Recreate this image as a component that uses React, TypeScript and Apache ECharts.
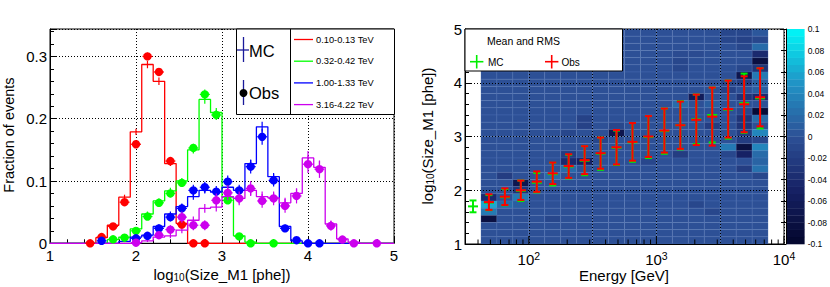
import React, { useEffect, useRef } from "react";
import * as echarts from "echarts";

const FONT = "'Liberation Sans', Arial, Helvetica, sans-serif";

// ---------- binning (log10 Size: 30 bins from 1 to 5) ----------
const SIZE_MIN = 1;
const SIZE_MAX = 5;
const SIZE_NBINS = 30;

// ---------- left panel: fraction of events per log10(Size) bin ----------
const energyBinLabels = ["0.10-0.13 TeV", "0.32-0.42 TeV", "1.00-1.33 TeV", "3.16-4.22 TeV"];

const redMC = [0, 0, 0, 0, 0.009, 0.029, 0.074, 0.179, 0.287, 0.26, 0.128, 0.032, 0, 0, 0, 0, 0, 0, 0, 0, 0, 0, 0, 0, 0, 0, 0, 0, 0, 0];
const redMCErr = [0, 0, 0, 0, 0.002, 0.003, 0.004, 0.005, 0.006, 0.006, 0.004, 0.002, 0, 0, 0, 0, 0, 0, 0, 0, 0, 0, 0, 0, 0, 0, 0, 0, 0, 0];
const redObs = [null, null, null, 0, 0.01, 0.027, 0.066, 0.159, 0.3, 0.275, 0.132, 0.03, 0, 0, null, null, null, null, null, null, null, null, null, null, null, null, null, null, null, null];
const redObsErr = [0, 0, 0, 0, 0.003, 0.004, 0.005, 0.006, 0.006, 0.006, 0.005, 0.004, 0, 0, 0, 0, 0, 0, 0, 0, 0, 0, 0, 0, 0, 0, 0, 0, 0, 0];

const greenMC = [0, 0, 0, 0, 0, 0.006, 0.01, 0.023, 0.047, 0.068, 0.084, 0.1, 0.15, 0.231, 0.21, 0.074, 0.012, 0.002, 0, 0, 0, 0, 0, 0, 0, 0, 0, 0, 0, 0];
const greenMCErr = [0, 0, 0, 0, 0, 0.002, 0.002, 0.003, 0.004, 0.004, 0.005, 0.005, 0.006, 0.007, 0.007, 0.004, 0.002, 0.001, 0, 0, 0, 0, 0, 0, 0, 0, 0, 0, 0, 0];
const greenObs = [null, null, null, null, null, 0.0064, 0.009, 0.02, 0.043, 0.065, 0.08, 0.097, 0.153, 0.239, 0.206, 0.069, 0.011, 0, null, 0, null, null, null, null, null, null, null, null, null, null];
const greenObsErr = [0, 0, 0, 0, 0, 0.002, 0.003, 0.004, 0.005, 0.006, 0.006, 0.006, 0.007, 0.008, 0.008, 0.005, 0.003, 0, 0, 0, 0, 0, 0, 0, 0, 0, 0, 0, 0, 0];

const blueMC = [0, 0, 0, 0, 0, 0, 0.003, 0.01, 0.013, 0.027, 0.047, 0.059, 0.075, 0.085, 0.082, 0.09, 0.085, 0.128, 0.187, 0.107, 0.027, 0.004, 0, 0, 0, 0, 0, 0, 0, 0];
const blueMCErr = [0, 0, 0, 0, 0, 0, 0.001, 0.002, 0.002, 0.003, 0.004, 0.004, 0.005, 0.005, 0.005, 0.005, 0.005, 0.006, 0.008, 0.006, 0.003, 0.001, 0, 0, 0, 0, 0, 0, 0, 0];
const blueObs = [null, null, null, null, 0.004, null, null, 0.008, 0.012, 0.024, 0.042, 0.056, 0.085, 0.09, 0.083, 0.099, 0.085, 0.123, 0.171, 0.101, 0.024, 0.005, 0, 0, null, null, null, null, null, null];
const blueObsErr = [0, 0, 0, 0, 0.003, 0, 0, 0.004, 0.005, 0.006, 0.007, 0.008, 0.009, 0.009, 0.009, 0.01, 0.009, 0.011, 0.013, 0.01, 0.005, 0.003, 0, 0, 0, 0, 0, 0, 0, 0];

const magentaMC = [0, 0, 0, 0, 0, 0, 0, 0.001, 0.004, 0.01, 0.012, 0.021, 0.037, 0.056, 0.058, 0.075, 0.072, 0.085, 0.075, 0.073, 0.065, 0.08, 0.137, 0.122, 0.031, 0.007, 0.002, 0, 0, 0];
const magentaMCErr = [0, 0, 0, 0, 0, 0, 0, 0.001, 0.002, 0.003, 0.004, 0.005, 0.006, 0.007, 0.007, 0.008, 0.008, 0.008, 0.008, 0.008, 0.008, 0.008, 0.011, 0.01, 0.005, 0.002, 0.001, 0, 0, 0];
const magentaObs = [null, null, null, null, null, null, null, 0.001, null, 0.013, 0.022, 0.042, 0.029, 0.029, 0.069, 0.081, 0.072, 0.088, 0.068, 0.072, 0.06, 0.076, 0.127, 0.119, 0.028, 0.006, 0, null, 0, null];
const magentaObsErr = [0, 0, 0, 0, 0, 0, 0, 0.001, 0, 0.006, 0.007, 0.009, 0.008, 0.008, 0.011, 0.012, 0.011, 0.012, 0.011, 0.011, 0.011, 0.012, 0.014, 0.014, 0.008, 0.004, 0, 0, 0, 0];

const leftSeries = [
  { color: "#ff0000", mc: redMC, mcErr: redMCErr, obs: redObs, obsErr: redObsErr },
  { color: "#00ff00", mc: greenMC, mcErr: greenMCErr, obs: greenObs, obsErr: greenObsErr },
  { color: "#0000ff", mc: blueMC, mcErr: blueMCErr, obs: blueObs, obsErr: blueObsErr },
  { color: "#cc00ee", mc: magentaMC, mcErr: magentaMCErr, obs: magentaObs, obsErr: magentaObsErr },
];

// ---------- right panel ----------
// log10(Energy/GeV) bin edges of the 2D map (0.125 decade bins)
const energyEdgesLog = [1.625, 1.75, 1.875, 2.0, 2.125, 2.25, 2.375, 2.5, 2.625, 2.75, 2.875, 3.0, 3.125, 3.25, 3.375, 3.5, 3.625, 3.75, 3.875];

// Mean and RMS of log10(Size) per energy bin
const mcLogE = [1.5625, 1.6875, 1.8125, 1.9375, 2.0625, 2.1875, 2.3125, 2.4375, 2.5625, 2.6875, 2.8125, 2.9375, 3.0625, 3.1875, 3.3125, 3.4375, 3.5625, 3.6875, 3.8125];
const mcMean = [1.7, 1.77, 1.87, 1.99, 2.14, 2.3, 2.44, 2.55, 2.68, 2.79, 2.89, 2.99, 3.1, 3.21, 3.32, 3.4, 3.5, 3.62, 3.71];
const mcRMS = [0.11, 0.14, 0.15, 0.19, 0.18, 0.21, 0.22, 0.27, 0.3, 0.32, 0.36, 0.39, 0.42, 0.45, 0.46, 0.51, 0.54, 0.55, 0.56];
const obsLogE = [1.6875, 1.8125, 1.9375, 2.0625, 2.1875, 2.3125, 2.4375, 2.5625, 2.6875, 2.8125, 2.9375, 3.0625, 3.1875, 3.3125, 3.4375, 3.5625, 3.6875, 3.8125];
const obsMean = [1.78, 1.88, 2.0, 2.16, 2.315, 2.45, 2.56, 2.69, 2.8, 2.9, 3.0, 3.11, 3.21, 3.31, 3.37, 3.51, 3.6, 3.73];
const obsRMS = [0.145, 0.155, 0.18, 0.19, 0.2, 0.22, 0.26, 0.29, 0.32, 0.35, 0.38, 0.41, 0.44, 0.47, 0.54, 0.53, 0.52, 0.54];

// 2D difference map, rows listed from the top Size bin (4.87-5.00) down to the bottom one
const sizeEnergyDiff = [
  [0, 0, 0, 0, 0, 0, 0, 0, 0, 0, 0, 0, 0, 0, 0, -0.01, -0.01, 0.005],
  [0, 0, 0, 0, 0, 0, 0, 0, 0, 0, 0, 0, 0, 0, 0, -0.01, -0.015, -0.01],
  [0, 0, 0, 0, 0, 0, 0, 0, 0, 0, 0, 0, 0, 0, 0, 0, -0.01, 0.02],
  [0, 0, 0, 0, 0, 0, 0, 0, 0, 0, 0, 0, -0.005, -0.005, 0, 0, 0, -0.04],
  [0, 0, 0, 0, 0, 0, 0, 0, 0, 0, 0, 0, -0.01, 0, 0, 0, 0, -0.08],
  [0, 0, 0, 0, 0, 0, 0, 0, 0, 0, 0, 0, -0.01, 0, 0, 0, -0.01, -0.03],
  [0, 0, 0, 0, 0, 0, 0, 0, 0, 0, 0, 0, 0, 0, 0, 0, -0.07, 0.03],
  [0, 0, 0, 0, 0, 0, 0, 0, 0, 0, 0, 0, 0, 0, 0, -0.01, -0.02, 0.01],
  [0, 0, 0, 0, 0, 0, 0, 0, 0, 0, 0, 0, 0, 0, 0, -0.015, 0, 0.01],
  [0, 0, 0, 0, 0, 0, 0, 0, 0, 0, 0, 0, 0, -0.06, 0, 0, -0.03, -0.04],
  [0, 0, 0, 0, 0, 0, 0, 0, 0, 0, 0, 0, 0.02, 0, 0.01, 0, 0, 0],
  [0, 0, 0, 0, 0, 0, 0, 0, 0, 0, 0, 0, 0, 0, 0, 0, -0.01, -0.09],
  [0, 0, 0, 0, 0, 0, -0.015, 0, 0, 0, 0, 0, 0, 0, 0, 0, -0.03, 0.02],
  [0, 0, 0, 0, 0, 0, -0.015, 0, -0.01, 0, 0, 0, 0, 0, -0.02, 0, -0.03, 0],
  [0, 0, 0, 0, 0, -0.01, 0, 0, -0.07, 0, 0, 0, 0, 0, 0, 0, -0.02, 0.04],
  [0, 0, 0, 0, 0, 0, 0, -0.01, 0, 0, 0, 0, 0, 0, 0, 0, -0.02, -0.01],
  [0, 0, 0, 0, 0, 0, 0, 0, 0, 0, 0, 0, 0, 0, 0, 0.03, -0.08, 0.04],
  [0, 0, 0, 0, 0, -0.02, 0, 0, 0, 0, 0, 0, -0.02, 0, 0, -0.01, -0.05, 0.02],
  [0, 0, 0, 0, 0, -0.04, -0.05, 0, 0, 0, -0.01, 0, 0, 0, 0, 0, 0, 0.015],
  [0, 0, 0, 0, 0, 0.02, 0, 0, 0, 0, 0, 0, 0, 0, 0, 0, -0.02, 0.025],
  [0, -0.02, 0, 0, 0.02, 0, 0, 0, 0, 0, 0, 0, 0, 0, 0, 0, 0, -0.01],
  [0, 0, -0.07, 0, 0, 0, 0, 0, 0, 0, 0, 0, 0, 0, 0, 0, 0, 0],
  [0, 0, -0.03, 0, 0, 0, 0, 0, 0, 0, 0, 0, 0, 0, 0, 0, 0, 0],
  [-0.04, 0, 0.03, 0, 0, 0, 0, 0, 0, 0, 0, 0, 0, 0, 0, 0, 0, 0],
  [0.06, 0.02, 0.01, 0, 0, 0, 0, 0, 0, 0, 0, 0, 0, -0.01, 0, 0, 0, 0],
  [0.03, 0, 0, 0, 0, 0, 0, 0, 0, 0, 0, 0, 0, 0, -0.01, 0, 0, 0],
  [-0.08, 0, 0, 0, -0.01, 0, 0, 0, 0, 0, 0, 0, 0, 0, 0, 0, 0, 0],
  [0, 0, 0, 0, 0, 0, 0, 0, 0, 0, 0, 0, 0, 0, 0, 0, 0, 0],
  [0, 0, 0, 0, 0, 0, 0, 0, 0, 0, 0, 0, 0, 0, 0, 0, 0, 0],
  [0, 0, 0, 0, 0, 0, 0, 0, 0, 0, 0, 0, 0, 0, 0, 0, 0, 0],
];

const Z_MIN = -0.1;
const Z_MAX = 0.1;

// ---------- helpers (style / geometry only) ----------
const sizeEdge = (k: number) => SIZE_MIN + ((SIZE_MAX - SIZE_MIN) * k) / SIZE_NBINS;
const sizeCenter = (k: number) => (sizeEdge(k) + sizeEdge(k + 1)) / 2;

const paletteStops: [number, number[]][] = [
  [-0.1, [3, 6, 44]],
  [-0.05, [22, 33, 100]],
  [0, [45, 80, 150]],
  [0.05, [32, 148, 198]],
  [0.1, [0, 248, 248]],
];
function colorFor(v: number) {
  const x = Math.max(Z_MIN, Math.min(Z_MAX, v));
  for (let i = 0; i < paletteStops.length - 1; i++) {
    const [a, ca] = paletteStops[i];
    const [b, cb] = paletteStops[i + 1];
    if (x >= a && x <= b) {
      const t = (x - a) / (b - a);
      const c = ca.map((q, j) => Math.round(q + (cb[j] - q) * t));
      return `rgb(${c[0]},${c[1]},${c[2]})`;
    }
  }
  return "rgb(45,80,150)";
}

export default function App() {
  const ref = useRef<HTMLDivElement>(null);

  useEffect(() => {
    if (!ref.current) return;
    const chart = echarts.init(ref.current, null, { renderer: "svg" });

    const black = "#000";
    const dotted = { color: black, width: 1, type: [1, 2] as any };
    const subRich = { sub: { fontSize: 10, fontFamily: FONT, padding: [6, 0, 0, 0] } };

    // ----- left panel series -----
    const series: any[] = [];
    leftSeries.forEach((s) => {
      const pts: number[][] = [];
      s.mc.forEach((v, k) => {
        pts.push([sizeEdge(k), v]);
        pts.push([sizeEdge(k + 1), v]);
      });
      series.push({
        type: "line",
        xAxisIndex: 0,
        yAxisIndex: 0,
        data: pts,
        showSymbol: false,
        symbol: "none",
        lineStyle: { color: s.color, width: 1.3 },
        z: 3,
        silent: true,
      });
      series.push({
        type: "custom",
        xAxisIndex: 0,
        yAxisIndex: 0,
        data: s.mc.map((v, k) => [sizeCenter(k), v, s.mcErr[k]]).filter((d) => d[2] > 0),
        encode: { x: 0, y: 1 },
        z: 3,
        renderItem: (params: any, api: any) => {
          const x = api.value(0), y = api.value(1), e = api.value(2);
          const p0 = api.coord([x, y - e]);
          const p1 = api.coord([x, y + e]);
          return {
            type: "line",
            shape: { x1: p0[0], y1: p0[1], x2: p1[0], y2: p1[1] },
            style: { stroke: s.color, lineWidth: 1.2 },
          };
        },
      });
    });
    leftSeries.forEach((s) => {
      const data: number[][] = [];
      s.obs.forEach((v, k) => {
        if (v !== null) data.push([sizeCenter(k), v as number, s.obsErr[k]]);
      });
      series.push({
        type: "custom",
        xAxisIndex: 0,
        yAxisIndex: 0,
        data,
        encode: { x: 0, y: 1 },
        z: 4,
        renderItem: (params: any, api: any) => {
          const x = api.value(0), y = api.value(1), e = api.value(2);
          const pc = api.coord([x, y]);
          const p0 = api.coord([x, y - e]);
          const p1 = api.coord([x, y + e]);
          return {
            type: "group",
            children: [
              { type: "line", shape: { x1: pc[0], y1: p0[1], x2: pc[0], y2: p1[1] }, style: { stroke: s.color, lineWidth: 1.2 } },
              { type: "line", shape: { x1: pc[0] - 5, y1: pc[1], x2: pc[0] + 5, y2: pc[1] }, style: { stroke: s.color, lineWidth: 1.2 } },
              { type: "circle", shape: { cx: pc[0], cy: pc[1], r: 4.2 }, style: { fill: s.color } },
            ],
          };
        },
      });
    });

    // ----- right panel: 2D map -----
    const heat: number[][] = [];
    sizeEnergyDiff.forEach((row, ri) => {
      const r = SIZE_NBINS - 1 - ri;
      row.forEach((v, c) => {
        heat.push([energyEdgesLog[c], energyEdgesLog[c + 1], sizeEdge(r), sizeEdge(r + 1), v]);
      });
    });
    series.push({
      type: "custom",
      xAxisIndex: 1,
      yAxisIndex: 1,
      data: heat,
      encode: { x: [0, 1], y: [2, 3] },
      z: 1,
      silent: true,
      renderItem: (params: any, api: any) => {
        const p0 = api.coord([api.value(0), api.value(2)]);
        const p1 = api.coord([api.value(1), api.value(3)]);
        return {
          type: "rect",
          shape: { x: p0[0], y: p1[1], width: p1[0] - p0[0], height: p0[1] - p1[1] },
          style: { fill: colorFor(api.value(4)), stroke: "rgba(95,130,195,0.45)", lineWidth: 0.5 },
        };
      },
    });

    // log-axis ticks on the energy axis
    const logTicks: number[][] = [];
    for (let n = 1; n <= 4; n++) {
      for (let k = 1; k <= 9; k++) {
        const lv = n + Math.log10(k);
        if (lv >= 1.5 - 1e-9 && lv <= 4 + 1e-9) logTicks.push([lv, k === 1 ? 1 : 0]);
      }
    }
    series.push({
      type: "custom",
      xAxisIndex: 1,
      yAxisIndex: 1,
      data: logTicks,
      encode: { x: 0 },
      z: 7,
      silent: true,
      renderItem: (params: any, api: any) => {
        const p = api.coord([api.value(0), SIZE_MIN]);
        const len = api.value(1) ? 8 : 4.5;
        return { type: "line", shape: { x1: p[0], y1: p[1], x2: p[0], y2: p[1] - len }, style: { stroke: black, lineWidth: 1 } };
      },
    });

    const errSeries = (xs: number[], ms: number[], rs: number[], color: string, z: number) => ({
      type: "custom",
      xAxisIndex: 1,
      yAxisIndex: 1,
      data: xs.map((x, i) => [x, ms[i], rs[i]]),
      encode: { x: 0, y: 1 },
      z,
      renderItem: (params: any, api: any) => {
        const x = api.value(0), m = api.value(1), s = api.value(2);
        const pc = api.coord([x, m]);
        const pt = api.coord([x, m + s]);
        const pb = api.coord([x, m - s]);
        const st = { stroke: color, lineWidth: 2 };
        return {
          type: "group",
          children: [
            { type: "line", shape: { x1: pc[0], y1: pt[1], x2: pc[0], y2: pb[1] }, style: st },
            { type: "line", shape: { x1: pc[0] - 3.5, y1: pt[1], x2: pc[0] + 3.5, y2: pt[1] }, style: st },
            { type: "line", shape: { x1: pc[0] - 3.5, y1: pb[1], x2: pc[0] + 3.5, y2: pb[1] }, style: st },
            { type: "line", shape: { x1: pc[0] - 5, y1: pc[1], x2: pc[0] + 5, y2: pc[1] }, style: st },
          ],
        };
      },
    });
    series.push(errSeries(mcLogE, mcMean, mcRMS, "#00ee00", 8));
    series.push(errSeries(obsLogE, obsMean, obsRMS, "#ff0000", 9));

    // ----- color bar -----
    const NB = 30;
    const bands: number[][] = [];
    for (let i = 0; i < NB; i++) {
      bands.push([0, 1, Z_MIN + ((Z_MAX - Z_MIN) * i) / NB, Z_MIN + ((Z_MAX - Z_MIN) * (i + 1)) / NB]);
    }
    series.push({
      type: "custom",
      xAxisIndex: 2,
      yAxisIndex: 2,
      data: bands,
      encode: { x: [0, 1], y: [2, 3] },
      z: 1,
      silent: true,
      renderItem: (params: any, api: any) => {
        const lo = api.value(2), hi = api.value(3);
        const p0 = api.coord([0, lo]);
        const p1 = api.coord([1, hi]);
        return {
          type: "rect",
          shape: { x: p0[0], y: p1[1], width: p1[0] - p0[0], height: p0[1] - p1[1] + 0.3 },
          style: { fill: colorFor((lo + hi) / 2) },
        };
      },
    });

    const tickLabel = { color: black, fontSize: 15, fontFamily: FONT };

    const legendEntries = energyBinLabels.map((t, i) => {
      const y = 39.5 + i * 21.7;
      return [
        { type: "line", z: 101, shape: { x1: 294, y1: y, x2: 313, y2: y }, style: { stroke: leftSeries[i].color, lineWidth: 1.3 } },
        { type: "text", z: 101, x: 316, y, style: { text: t, fontSize: 9.3, fontFamily: FONT, fill: black, align: "left", verticalAlign: "middle" } },
      ];
    }).flat();

    const option: any = {
      animation: false,
      backgroundColor: "#fff",
      grid: [
        { left: 50, top: 29, width: 344, height: 214.3, show: true, borderColor: black, borderWidth: 1, backgroundColor: "transparent" },
        { left: 465, top: 29, width: 319, height: 215, show: true, borderColor: black, borderWidth: 1, backgroundColor: "transparent" },
        { left: 786, top: 29, width: 19, height: 215, show: false },
      ],
      xAxis: [
        {
          type: "value", gridIndex: 0, min: SIZE_MIN, max: SIZE_MAX, interval: 1,
          axisLine: { show: true, lineStyle: { color: black } },
          axisTick: { show: true, inside: true, length: 7, lineStyle: { color: black } },
          minorTick: { show: true, splitNumber: 5, length: 4, lineStyle: { color: black } },
          axisLabel: { ...tickLabel, margin: 5 },
          splitLine: { show: true, lineStyle: dotted },
        },
        {
          type: "value", gridIndex: 1, min: 1.5, max: 4, interval: 0.5, z: 5,
          axisLine: { show: true, lineStyle: { color: black } },
          axisTick: { show: false },
          axisLabel: {
            margin: 6,
            showMinLabel: false,
            formatter: (v: number) => (Math.abs(v - Math.round(v)) < 1e-6 ? `{b|10}{s|${Math.round(v)}}` : ""),
            rich: {
              b: { fontSize: 15, fontFamily: FONT, color: black },
              s: { fontSize: 10.5, fontFamily: FONT, color: black, padding: [0, 0, 8, 0] },
            },
          },
          splitLine: { show: true, lineStyle: dotted },
        },
        { type: "value", gridIndex: 2, min: 0, max: 1, show: false },
      ],
      yAxis: [
        {
          type: "value", gridIndex: 0, min: 0, max: 0.344, interval: 0.1,
          axisLine: { show: true, lineStyle: { color: black } },
          axisTick: { show: true, inside: true, length: 7, lineStyle: { color: black } },
          minorTick: { show: true, splitNumber: 5, length: 4, lineStyle: { color: black } },
          axisLabel: { ...tickLabel, margin: 3, showMaxLabel: false, formatter: (v: number) => (Math.abs(v * 10 - Math.round(v * 10)) < 1e-6 ? String(+v.toFixed(1)) : "") },
          splitLine: { show: true, lineStyle: dotted },
        },
        {
          type: "value", gridIndex: 1, min: SIZE_MIN, max: SIZE_MAX, interval: 1, z: 5,
          axisLine: { show: true, lineStyle: { color: black } },
          axisTick: { show: true, inside: true, length: 7, lineStyle: { color: black } },
          minorTick: { show: true, splitNumber: 5, length: 4, lineStyle: { color: black } },
          axisLabel: { ...tickLabel, margin: 3 },
          splitLine: { show: true, lineStyle: dotted },
        },
        {
          type: "value", gridIndex: 2, min: Z_MIN, max: Z_MAX, interval: 0.02, position: "right", z: 5,
          axisLine: { show: true, lineStyle: { color: black } },
          axisTick: { show: true, inside: true, length: 5, lineStyle: { color: black } },
          axisLabel: { color: black, fontSize: 8.5, fontFamily: FONT, margin: 3, formatter: (v: number) => String(+v.toFixed(2)) },
          splitLine: { show: false },
        },
      ],
      series,
      graphic: [
        // axis titles
        { type: "text", z: 100, x: 9, y: 135, rotation: Math.PI / 2, style: { text: "Fraction of events", fontSize: 14.5, fontFamily: FONT, fill: black, align: "center", verticalAlign: "middle" } },
        { type: "text", z: 100, x: 222, y: 274, style: { text: "log{sub|10}(Size_M1 [phe])", rich: subRich, fontSize: 15, fontFamily: FONT, fill: black, align: "center", verticalAlign: "middle" } },
        { type: "text", z: 100, x: 427, y: 136, rotation: Math.PI / 2, style: { text: "log{sub|10}(Size_M1 [phe])", rich: subRich, fontSize: 15, fontFamily: FONT, fill: black, align: "center", verticalAlign: "middle" } },
        { type: "text", z: 100, x: 624, y: 275, style: { text: "Energy [GeV]", fontSize: 15, fontFamily: FONT, fill: black, align: "center", verticalAlign: "middle" } },
        // left legend
        { type: "rect", z: 100, shape: { x: 236.5, y: 29, width: 158, height: 85.5 }, style: { fill: "#fff", stroke: black, lineWidth: 1 } },
        { type: "line", z: 101, shape: { x1: 290.5, y1: 29, x2: 290.5, y2: 114.5 }, style: { stroke: black, lineWidth: 1 } },
        { type: "line", z: 101, shape: { x1: 243.5, y1: 37, x2: 243.5, y2: 62 }, style: { stroke: "#1a1a9a", lineWidth: 1.3 } },
        { type: "line", z: 101, shape: { x1: 237, y1: 50, x2: 249, y2: 50 }, style: { stroke: "#1a1a9a", lineWidth: 1.3 } },
        { type: "text", z: 101, x: 249, y: 51, style: { text: "MC", fontSize: 16.5, fontFamily: FONT, fill: black, align: "left", verticalAlign: "middle" } },
        { type: "line", z: 101, shape: { x1: 243.5, y1: 80, x2: 243.5, y2: 105 }, style: { stroke: "#1a1a9a", lineWidth: 1.3 } },
        { type: "circle", z: 102, shape: { cx: 243.5, cy: 93, r: 4 }, style: { fill: black } },
        { type: "text", z: 101, x: 249, y: 93, style: { text: "Obs", fontSize: 16.5, fontFamily: FONT, fill: black, align: "left", verticalAlign: "middle" } },
        ...legendEntries,
        // right legend
        { type: "rect", z: 100, shape: { x: 465, y: 29, width: 157.5, height: 42 }, style: { fill: "#fff", stroke: black, lineWidth: 1 } },
        { type: "text", z: 101, x: 487, y: 40.5, style: { text: "Mean and RMS", fontSize: 10.5, fontFamily: FONT, fill: black, align: "left", verticalAlign: "middle" } },
        { type: "line", z: 101, shape: { x1: 476.7, y1: 55, x2: 476.7, y2: 68.5 }, style: { stroke: "#00ee00", lineWidth: 1.6 } },
        { type: "line", z: 101, shape: { x1: 470, y1: 61.7, x2: 483.4, y2: 61.7 }, style: { stroke: "#00ee00", lineWidth: 1.6 } },
        { type: "text", z: 101, x: 488, y: 62, style: { text: "MC", fontSize: 10, fontFamily: FONT, fill: black, align: "left", verticalAlign: "middle" } },
        { type: "line", z: 101, shape: { x1: 551.7, y1: 55, x2: 551.7, y2: 68.5 }, style: { stroke: "#ff0000", lineWidth: 1.6 } },
        { type: "line", z: 101, shape: { x1: 545, y1: 61.7, x2: 558.4, y2: 61.7 }, style: { stroke: "#ff0000", lineWidth: 1.6 } },
        { type: "text", z: 101, x: 561.5, y: 62, style: { text: "Obs", fontSize: 10, fontFamily: FONT, fill: black, align: "left", verticalAlign: "middle" } },
      ],
    };

    chart.setOption(option);
    return () => chart.dispose();
  }, []);

  return <div ref={ref} style={{ position: "absolute", left: 0, top: 0, width: 830, height: 287 }} />;
}
